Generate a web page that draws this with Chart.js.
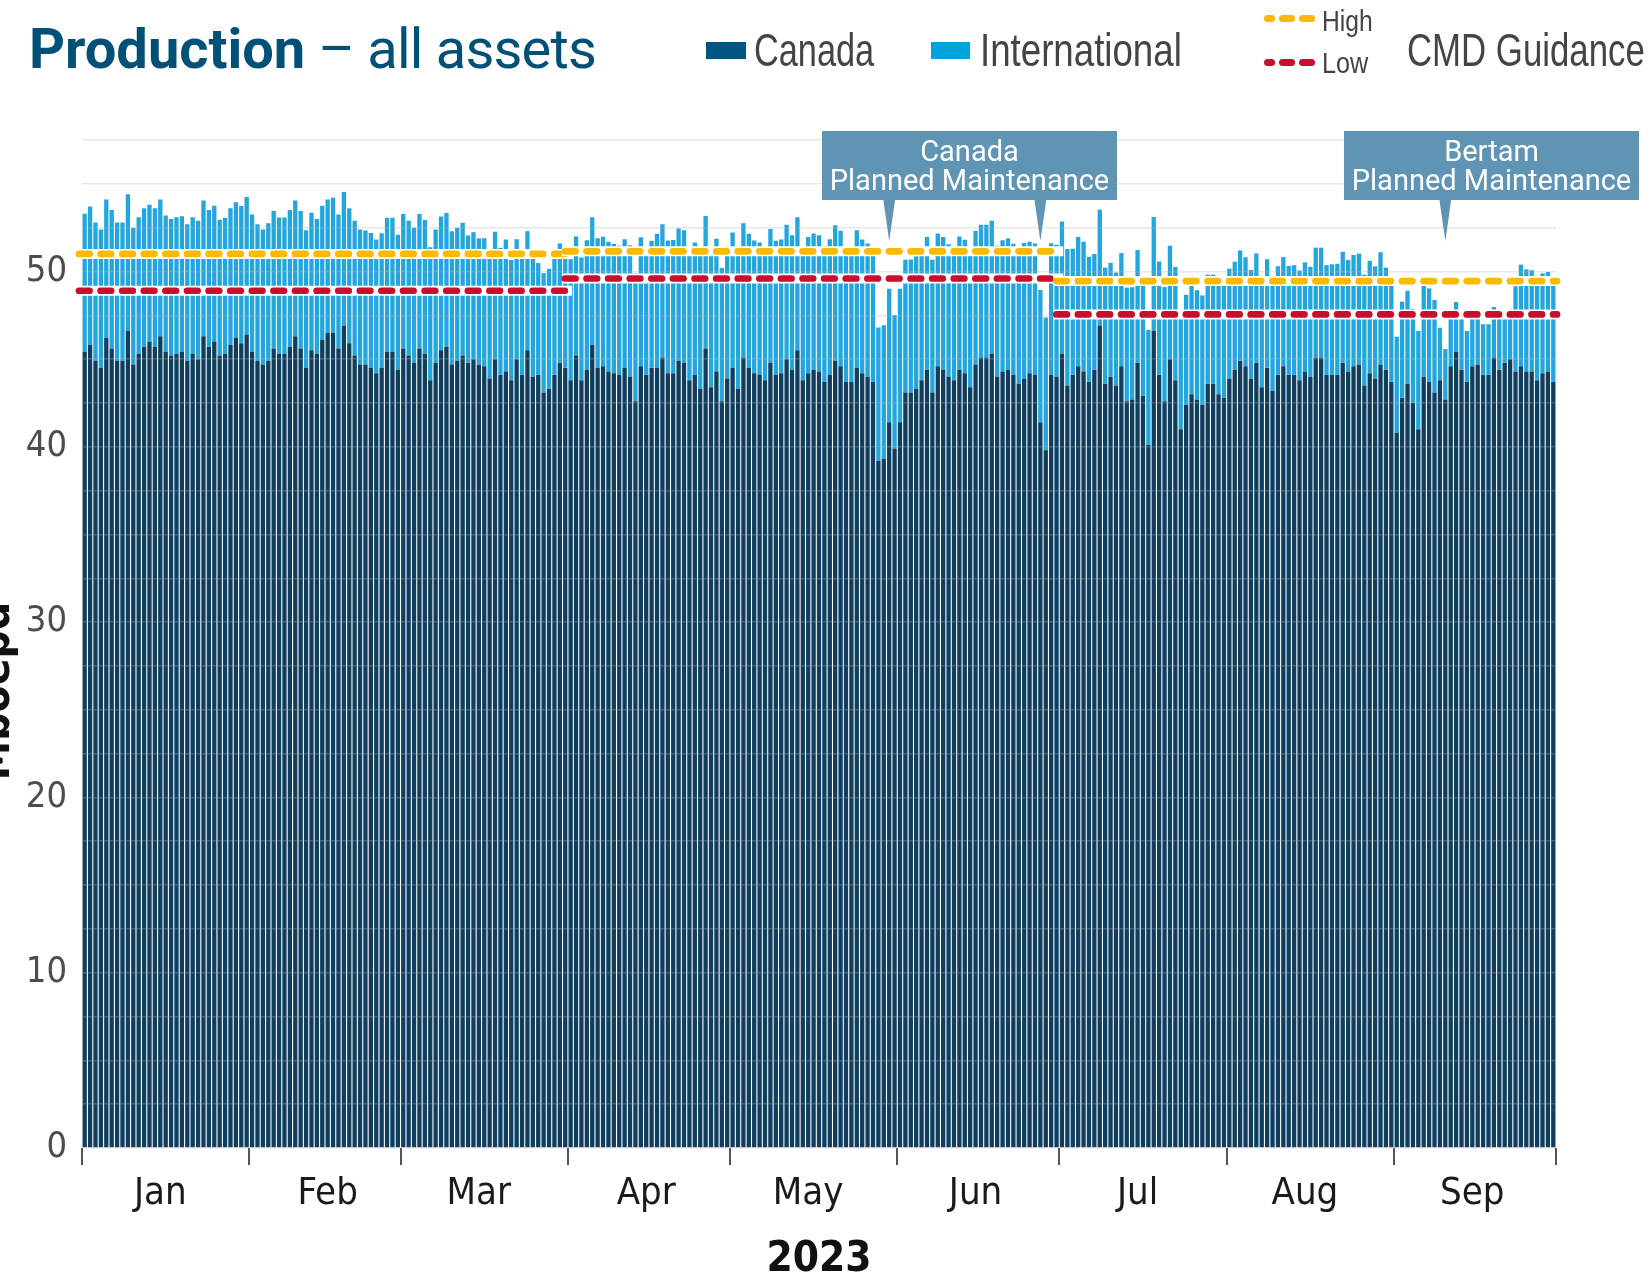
<!DOCTYPE html>
<html>
<head>
<meta charset="utf-8">
<script src="https://cdn.jsdelivr.net/npm/chart.js@4.4.1/dist/chart.umd.min.js"></script>
<style>
  body { margin: 0; background: #fff; }
  #wrap { position: relative; width: 1651px; height: 1274px; overflow: hidden; }
  #wrap canvas { position: absolute; left: 0; top: 0; }
  .t { position: absolute; white-space: nowrap; line-height: 1; }
  .narrow { font-family: "Liberation Sans", Arial, sans-serif; color: #444; transform-origin: 0 0; }
  .sq { position: absolute; height: 17px; }
  .pill { position: absolute; height: 7px; border-radius: 3.5px; }
</style>
</head>
<body>
<div id="wrap">
  <canvas id="production" width="1651" height="1274"></canvas>

  <div class="t" style="left:29px; top:21px; font-family: Roboto, sans-serif; font-size:56px; color:#005077;"><b>Production</b><span style="letter-spacing:-0.8px;"> – all assets</span></div>

  <div class="sq" style="left:706px; top:42px; width:40px; background:#005680;"></div>
  <div class="t narrow" style="left:754px; top:25.5px; font-size:47px; transform:scaleX(0.73);">Canada</div>
  <div class="sq" style="left:931px; top:42px; width:39px; background:#00a3dc;"></div>
  <div class="t narrow" style="left:980px; top:25.5px; font-size:47px; transform:scaleX(0.78);">International</div>

  <div class="pill" style="left:1264px; top:15px; width:11px; background:#fbb900;"></div>
  <div class="pill" style="left:1279px; top:15px; width:16px; background:#fbb900;"></div>
  <div class="pill" style="left:1299px; top:15px; width:16px; background:#fbb900;"></div>
  <div class="t narrow" style="left:1322px; top:7px; font-size:29px; transform:scaleX(0.85);">High</div>
  <div class="pill" style="left:1264px; top:59px; width:11px; background:#c8102e;"></div>
  <div class="pill" style="left:1279px; top:59px; width:16px; background:#c8102e;"></div>
  <div class="pill" style="left:1299px; top:59px; width:16px; background:#c8102e;"></div>
  <div class="t narrow" style="left:1322px; top:49px; font-size:29px; transform:scaleX(0.87);">Low</div>
  <div class="t narrow" style="left:1407px; top:25.5px; font-size:47px; transform:scaleX(0.74);">CMD Guidance</div>
</div>

<script>
const NARROW = '"DejaVu Sans Condensed", "Liberation Sans Narrow", sans-serif';

// months shown on the x axis (2023)
const months = ['Jan', 'Feb', 'Mar', 'Apr', 'May', 'Jun', 'Jul', 'Aug', 'Sep'];
const daysInMonth = [31, 28, 31, 30, 31, 30, 31, 31, 30];

// daily production, Mboepd
const canada = [
  45.4, 45.8, 44.9, 44.5, 46.2, 45.6, 44.9, 44.9, 46.6, 44.7,
  45.3, 45.7, 46.0, 45.7, 46.3, 45.4, 45.2, 45.3, 45.4, 44.9,
  45.3, 45.0, 46.3, 45.7, 46.0, 45.2, 45.3, 45.8, 46.2, 45.9,
  46.4,
  45.4, 44.9, 44.7, 44.9, 45.6, 45.3, 45.3, 45.7, 46.3, 45.6,
  44.5, 45.5, 45.3, 46.1, 46.5, 46.5, 45.6, 46.9, 45.9, 45.2,
  44.7, 44.7, 44.5, 44.2, 44.5, 45.4, 45.4, 44.4,
  45.6, 45.2, 44.8, 45.6, 45.3, 43.8, 44.8, 45.5, 45.7, 44.7,
  44.9, 45.2, 44.8, 45.0, 44.7, 44.6, 43.9, 45.0, 44.1, 44.3,
  43.8, 45.0, 44.1, 45.5, 44.0, 44.1, 43.1, 43.3, 44.1, 44.8,
  44.5,
  43.8, 45.2, 43.8, 44.4, 45.8, 44.5, 44.6, 44.3, 44.2, 44.1,
  44.5, 44.0, 42.6, 44.6, 44.1, 44.5, 44.5, 45.1, 44.2, 44.2,
  44.9, 44.8, 43.8, 44.1, 43.3, 45.6, 43.4, 44.3, 42.6, 43.9,
  44.5, 43.3, 45.1, 44.5, 44.2, 44.1, 43.8, 44.8, 44.1, 44.2,
  45.0, 44.4, 45.5, 43.8, 44.2, 44.4, 44.3, 43.7, 44.1, 44.9,
  44.6, 43.7, 43.7, 44.5, 44.2, 44.0, 43.7, 39.2, 39.3, 41.4,
  39.9,
  41.4, 43.1, 43.1, 43.3, 43.8, 44.4, 43.1, 44.6, 44.4, 44.0,
  43.8, 44.4, 44.2, 43.4, 44.7, 45.1, 45.1, 45.3, 44.0, 44.3,
  44.4, 44.1, 43.6, 43.9, 44.2, 44.1, 41.4, 39.8, 44.1, 44.0,
  45.3, 43.5, 44.1, 44.6, 44.3, 43.7, 44.4, 46.9, 43.6, 44.0,
  43.5, 44.6, 42.6, 42.7, 44.8, 42.9, 40.1, 46.6, 44.1, 42.6,
  45.0, 43.8, 41.0, 42.4, 43.0, 42.7, 42.4, 43.6, 43.6, 43.0,
  42.8,
  43.9, 44.4, 44.9, 44.6, 43.9, 44.8, 43.4, 44.5, 43.2, 44.1,
  44.6, 44.1, 44.1, 43.8, 44.3, 44.0, 45.1, 45.1, 44.1, 44.1,
  44.1, 44.8, 44.3, 44.6, 44.7, 43.5, 44.2, 43.9, 44.7, 44.4,
  43.7,
  40.8, 42.8, 43.6, 42.5, 41.0, 44.0, 43.7, 43.1, 43.8, 42.7,
  44.6, 45.4, 44.4, 43.7, 44.6, 44.7, 44.1, 44.1, 45.1, 44.4,
  44.8, 45.0, 44.3, 44.6, 44.3, 44.3, 43.8, 44.2, 44.3, 43.7
];
const international = [
  7.9, 7.9, 7.9, 7.9, 7.9, 7.9, 7.9, 7.9, 7.8, 7.8,
  7.8, 7.9, 7.8, 7.9, 7.8, 7.8, 7.8, 7.8, 7.75, 7.8,
  7.8, 7.9, 7.75, 7.8, 7.75, 7.75, 7.77, 7.8, 7.75, 7.84,
  7.85,
  7.85, 7.8, 7.7, 7.85, 7.85, 7.78, 7.78, 7.8, 7.75, 7.85,
  7.85, 7.85, 7.7, 7.65, 7.6, 7.7, 7.65, 7.63, 7.7, 7.7,
  7.7, 7.64, 7.7, 7.63, 7.68, 7.67, 7.67, 7.7,
  7.68, 7.7, 7.7, 7.68, 7.64, 7.58, 7.6, 7.63, 7.64, 7.6,
  7.59, 7.58, 7.25, 7.24, 7.19, 7.29, 7.35, 7.27, 7.25, 7.52,
  6.86, 6.84, 6.9, 6.8, 6.8, 6.38, 6.8, 6.85, 6.73, 6.8,
  6.81,
  6.9, 6.8, 7.0, 7.38, 7.3, 7.39, 7.38, 7.39, 7.37, 7.37,
  7.34, 7.5, 7.3, 7.35, 6.83, 7.25, 7.65, 7.6, 7.57, 7.59,
  7.55, 7.55, 7.13, 7.56, 7.6, 7.57, 7.54, 7.57, 7.6, 7.55,
  7.73, 7.64, 7.65, 7.65, 7.57, 7.56, 7.48, 7.62, 7.65, 7.63,
  7.66, 7.66, 7.6, 7.59, 7.77, 7.77, 7.77, 7.75, 7.74, 7.73,
  7.73, 7.4, 7.4, 7.85, 7.63, 7.6, 7.5, 7.6, 7.63, 7.62,
  7.6,
  7.61, 7.57, 7.59, 7.57, 7.58, 7.56, 7.57, 7.57, 7.56, 7.56,
  7.53, 7.6, 7.61, 7.6, 7.61, 7.57, 7.57, 7.59, 7.47, 7.48,
  7.49, 7.48, 7.5, 7.72, 7.49, 7.5, 7.55, 7.57, 7.51, 7.53,
  7.55, 7.78, 7.2, 7.37, 7.4, 7.14, 6.6, 6.63, 6.62, 6.49,
  6.44, 6.45, 6.48, 6.4, 6.42, 6.35, 6.57, 6.51, 6.47, 6.51,
  6.47, 6.46, 6.5, 6.27, 6.25, 6.23, 6.23, 6.22, 6.22, 6.23,
  6.4,
  6.26, 6.16, 6.3, 6.21, 6.18, 6.23, 6.28, 6.2, 6.28, 6.2,
  6.22, 6.22, 6.26, 6.26, 6.22, 6.27, 6.26, 6.26, 6.26, 6.31,
  6.34, 6.32, 6.35, 6.34, 6.32, 6.32, 6.41, 6.39, 6.4, 5.82,
  5.49,
  5.48, 5.48, 5.3, 5.36, 5.61, 5.21, 5.34, 5.27, 2.99, 2.87,
  2.74, 2.86, 2.91, 2.9, 2.7, 2.59, 2.89, 2.89, 2.87, 2.89,
  2.55, 2.34, 4.86, 5.79, 5.82, 5.77, 5.44, 5.69, 5.67, 5.5
];

// CMD guidance per quarter (first month, last month)
const guidanceMonths = [[0, 2], [3, 5], [6, 8]];
const guidanceHigh = [51.0, 51.15, 49.45];
const guidanceLow = [48.9, 49.6, 47.55];

// call-outs: box in page px, pointer days (index into days)
const notes = [
  { lines: ['Canada', 'Planned Maintenance'], box: [822, 131, 295, 69], tips: [149, 177] },
  { lines: ['Bertam', 'Planned Maintenance'], box: [1344, 131, 295, 69], tips: [252] }
];

const days = [];
const monthStart = [];
months.forEach((m, k) => {
  monthStart.push(days.length);
  for (let d = 1; d <= daysInMonth[k]; d++) days.push(m + ' ' + d);
});
const monthLabelAt = {};
months.forEach((m, k) => { monthLabelAt[monthStart[k] + 14] = m; });

const boundaryColor = c => (c.type !== 'tick' || monthStart.includes(c.index)) ? '#555' : 'rgba(0,0,0,0)';

const overlay = {
  id: 'overlay',
  afterDraw(chart) {
    const { ctx, chartArea, scales: { x, y } } = chart;
    const half = (x.getPixelForValue(1) - x.getPixelForValue(0)) / 2;
    ctx.save();

    // guidance lines
    guidanceMonths.forEach(([m0, m1], k) => {
      const x0 = x.getPixelForValue(monthStart[m0]) - half;
      const x1 = x.getPixelForValue(monthStart[m1] + daysInMonth[m1] - 1) + half;
      [[guidanceHigh[k], '#fbb900'], [guidanceLow[k], '#c8102e']].forEach(([v, col]) => {
        const py = y.getPixelForValue(v);
        ctx.setLineDash([]);
        ctx.lineCap = 'butt';
        ctx.strokeStyle = '#fff';
        ctx.lineWidth = 10;
        ctx.beginPath(); ctx.moveTo(x0 - 6, py); ctx.lineTo(x1 + 4, py); ctx.stroke();
        ctx.setLineDash([10.6, 11]);
        ctx.lineCap = 'round';
        ctx.strokeStyle = col;
        ctx.lineWidth = 6.7;
        ctx.beginPath(); ctx.moveTo(x0 - 3, py); ctx.lineTo(x1 + 1, py); ctx.stroke();
      });
    });

    // call-out boxes
    ctx.setLineDash([]);
    notes.forEach(n => {
      const [bx, by, bw, bh] = n.box;
      ctx.fillStyle = '#5f94b5';
      ctx.fillRect(bx, by, bw, bh);
      n.tips.forEach(i => {
        const tx = x.getPixelForValue(i);
        ctx.beginPath();
        ctx.moveTo(tx - 6, by + bh - 1);
        ctx.lineTo(tx + 6, by + bh - 1);
        ctx.lineTo(tx, 241);
        ctx.closePath();
        ctx.fill();
      });
      ctx.fillStyle = '#fff';
      ctx.font = '29px Roboto, sans-serif';
      ctx.textAlign = 'center';
      ctx.textBaseline = 'alphabetic';
      ctx.fillText(n.lines[0], bx + bw / 2, by + 30);
      ctx.fillText(n.lines[1], bx + bw / 2, by + 58.6);
    });

    // axis titles
    ctx.fillStyle = '#111';
    ctx.textAlign = 'center';
    ctx.font = 'bold 42px ' + NARROW;
    ctx.fillText('2023', (chartArea.left + chartArea.right) / 2, 1271);
    ctx.translate(9, 691);
    ctx.rotate(-Math.PI / 2);
    ctx.font = 'bold 44px ' + NARROW;
    ctx.fillText('Mboepd', 0, 0);
    ctx.restore();
  }
};

new Chart(document.getElementById('production'), {
  type: 'bar',
  data: {
    labels: days,
    datasets: [
      { label: 'Canada', data: canada, backgroundColor: '#0f3e5f', stack: 'p' },
      { label: 'International', data: international, backgroundColor: '#22a6dd', stack: 'p' }
    ]
  },
  options: {
    responsive: false,
    devicePixelRatio: 1,
    animation: false,
    events: [],
    barPercentage: 0.8,
    categoryPercentage: 1.0,
    layout: { padding: { top: 140, right: 95, left: 0, bottom: 0 } },
    plugins: { legend: { display: false }, tooltip: { enabled: false } },
    scales: {
      x: {
        stacked: true,
        afterFit: s => { s.height = 126; },
        border: { display: false },
        grid: {
          offset: true, drawOnChartArea: false, drawTicks: true, tickLength: 17,
          lineWidth: 2, tickWidth: 2, color: boundaryColor, tickColor: boundaryColor
        },
        ticks: {
          autoSkip: false, maxRotation: 0, minRotation: 0, padding: 6,
          color: '#1a1a1a', font: { family: NARROW, size: 38 },
          callback: (v, i) => monthLabelAt[i] || ''
        }
      },
      y: {
        stacked: true, min: 0, max: 57.5,
        afterFit: s => { s.width = 82; },
        border: { display: false },
        grid: { color: 'rgba(175,175,175,0.3)', lineWidth: 1.5, drawTicks: false, z: 1 },
        ticks: {
          stepSize: 2.5, autoSkip: false, padding: 15,
          color: '#4d4d4d', font: { family: NARROW, size: 36 },
          callback: v => (v % 10 === 0 ? v : '')
        }
      }
    }
  },
  plugins: [overlay]
});
</script>
</body>
</html>
